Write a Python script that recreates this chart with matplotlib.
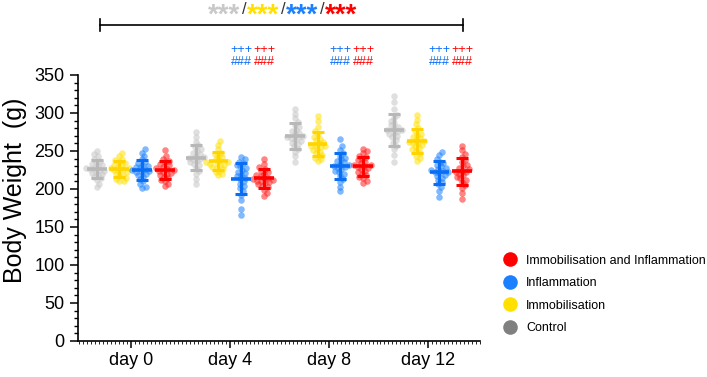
import numpy as np
import matplotlib
matplotlib.use('Agg')
import matplotlib.pyplot as plt
from matplotlib.lines import Line2D
from matplotlib.ticker import MultipleLocator

plt.rcParams['font.family'] = ['Liberation Sans', 'DejaVu Sans']

days = ['day 0', 'day 4', 'day 8', 'day 12']
groups = ['Control', 'Immobilisation', 'Inflammation', 'Immobilisation and Inflammation']

# body weights (g), one list per day
control = [
    [203, 207, 212, 214, 216, 218, 220, 221, 223, 224, 225, 226, 227, 228, 230, 231, 233, 235, 237, 240, 243, 246, 250],
    [207, 213, 220, 224, 228, 231, 233, 235, 237, 239, 240, 241, 242, 244, 246, 248, 250, 252, 255, 258, 262, 268, 275],
    [236, 243, 249, 253, 256, 259, 261, 263, 265, 267, 268, 269, 270, 272, 274, 276, 278, 281, 284, 288, 293, 299, 305],
    [235, 245, 252, 257, 261, 265, 268, 270, 272, 274, 276, 277, 278, 280, 282, 284, 287, 290, 294, 298, 305, 314, 322],
]
immob = [
    [210, 211, 213, 215, 217, 219, 220, 222, 224, 225, 226, 227, 228, 229, 231, 232, 234, 236, 238, 240, 243, 247],
    [218, 220, 222, 224, 226, 228, 229, 231, 232, 233, 234, 235, 236, 238, 240, 242, 244, 246, 248, 252, 258, 263],
    [237, 239, 241, 243, 245, 247, 249, 251, 253, 255, 256, 257, 258, 260, 262, 264, 266, 269, 272, 276, 282, 290, 296],
    [237, 241, 244, 247, 250, 252, 254, 256, 258, 260, 261, 262, 263, 265, 267, 269, 271, 273, 276, 280, 285, 291, 297],
]
inflam = [
    [201, 203, 206, 210, 213, 216, 218, 220, 222, 223, 224, 225, 226, 227, 229, 230, 232, 234, 236, 239, 243, 248, 252],
    [166, 174, 186, 192, 197, 201, 204, 207, 210, 213, 215, 217, 219, 221, 223, 225, 228, 230, 232, 234, 236, 239, 242],
    [197, 203, 209, 213, 217, 220, 222, 224, 226, 228, 229, 230, 231, 233, 235, 237, 239, 241, 244, 247, 251, 256, 266],
    [190, 197, 202, 206, 209, 212, 215, 217, 219, 221, 222, 223, 224, 225, 226, 228, 230, 232, 234, 236, 240, 245, 249],
]
immob_inflam = [
    [204, 207, 210, 212, 214, 216, 218, 220, 221, 223, 224, 225, 226, 228, 229, 231, 233, 235, 237, 240, 244, 251],
    [191, 195, 199, 202, 204, 206, 208, 209, 210, 211, 212, 213, 214, 215, 217, 218, 220, 222, 224, 226, 229, 233, 240],
    [208, 211, 214, 216, 218, 220, 222, 224, 226, 228, 229, 230, 231, 232, 234, 236, 238, 240, 242, 244, 247, 250, 253],
    [187, 195, 201, 205, 209, 212, 214, 216, 218, 220, 222, 223, 224, 226, 228, 230, 232, 235, 238, 242, 246, 251, 257],
]
all_data = [control, immob, inflam, immob_inflam]

point_colors = ['#c6c6c6', '#ffe000', '#1a80ff', '#ff1f1f']
line_colors = ['#b8b8b8', '#ffd400', '#0a6ef5', '#ff0000']
legend_colors = ['#808080', '#ffe000', '#1a80ff', '#ff0000']
offsets = [-0.345, -0.115, 0.115, 0.345]


def swarm(ypix, d):
    # simple beeswarm: place each point at the smallest |x| without overlap
    order = np.argsort(ypix)
    xs = np.zeros(len(ypix))
    placed = []
    for i in order:
        y = ypix[i]
        near = [(px, py) for px, py in placed if abs(py - y) < d]
        cands = [0.0]
        for px, py in near:
            dx = np.sqrt(d * d - (py - y) ** 2)
            cands += [px + dx, px - dx]
        cands.sort(key=abs)
        for c in cands:
            if all((c - px) ** 2 + (y - py) ** 2 >= d * d - 1e-6 for px, py in near):
                xs[i] = c
                break
        placed.append((xs[i], y))
    return xs


fig = plt.figure(figsize=(7.07, 3.77), dpi=100)
ax = fig.add_axes([0.110, 0.0955, 0.569, 0.7056])
ax.set_xlim(-0.535, 3.525)
ax.set_ylim(0, 350)

px_per_x = ax.transData.transform((1, 0))[0] - ax.transData.transform((0, 0))[0]

for g in range(4):
    for d in range(4):
        vals = np.array(all_data[g][d], dtype=float)
        xc = d + offsets[g]
        ypix = ax.transData.transform(np.column_stack([np.zeros_like(vals), vals]))[:, 1]
        xoff = swarm(ypix, 4.2) / px_per_x
        ax.scatter(xc + xoff, vals, s=22, color=point_colors[g], alpha=0.55,
                   linewidths=0, zorder=2)
        m = vals.mean()
        sd = vals.std(ddof=1)
        ax.errorbar(xc, m, yerr=sd, fmt='none', ecolor=line_colors[g],
                    elinewidth=2.2, capsize=4.3, capthick=2.2, zorder=3)
        ax.hlines(m, xc - 0.1, xc + 0.1, color=line_colors[g], lw=2.6, zorder=3)

# axes styling
ax.spines['top'].set_visible(False)
ax.spines['right'].set_visible(False)
ax.spines['left'].set_linewidth(1.2)
ax.spines['bottom'].set_linewidth(1.2)
ax.set_xticks(range(4))
ax.set_xticklabels(days, fontsize=13)
ax.xaxis.set_minor_locator(MultipleLocator(0.04))
ax.tick_params(axis='x', which='major', length=5, width=1.1, pad=3)
ax.tick_params(axis='x', which='minor', length=2, width=0.6)
ax.yaxis.set_major_locator(MultipleLocator(50))
ax.yaxis.set_minor_locator(MultipleLocator(10))
ax.tick_params(axis='y', which='major', length=6, width=1.1, labelsize=13)
ax.tick_params(axis='y', which='minor', length=3, width=1.0)
ax.set_ylabel('Body Weight  (g)', fontsize=18)
ax.yaxis.set_label_coords(-0.125, 0.565)

# significance bar on top
ax.plot([-0.31, 3.35], [416, 416], color='black', lw=1.2, clip_on=False)
for xe in [-0.31, 3.35]:
    ax.plot([xe, xe], [408, 424], color='black', lw=1.2, clip_on=False)

star_parts = [('***', '#c8c8c8'), ('/', '#333333'), ('***', '#ffe000'), ('/', '#333333'),
              ('***', '#1a80ff'), ('/', '#333333'), ('***', '#ff0000')]
prev = ax.text(0.78, 419, star_parts[0][0], color=star_parts[0][1], fontsize=20,
               fontweight='bold', ha='left', va='baseline', clip_on=False)
for s, c in star_parts[1:]:
    if s == '/':
        prev = ax.annotate(s, xy=(1, 0), xycoords=prev, xytext=(1.0, 8.5),
                           textcoords='offset points', color=c, fontsize=12,
                           va='bottom')
    else:
        prev = ax.annotate(s, xy=(1, 0), xycoords=prev, xytext=(0.5, -8.5),
                           textcoords='offset points', color=c, fontsize=20,
                           fontweight='bold', va='bottom')

# per-day markers above blue and red groups
for d in range(1, 4):
    for g in (2, 3):
        ax.text(d + offsets[g], 383, '+++', color=line_colors[g], fontsize=9,
                ha='center', va='center', clip_on=False)
        ax.text(d + offsets[g], 367, '###', color=line_colors[g], fontsize=9,
                ha='center', va='center', clip_on=False)

# legend
handles = [Line2D([], [], marker='o', ls='none', markersize=10.5,
                  markerfacecolor=legend_colors[g], markeredgecolor='none', label=groups[g])
           for g in [3, 2, 1, 0]]
fig.legend(handles=handles, loc='upper left', bbox_to_anchor=(0.706, 0.338),
           frameon=False, fontsize=9, handlelength=1.0, handletextpad=0.75,
           labelspacing=0.85, borderaxespad=0)

fig.savefig('out.png', dpi=100)
